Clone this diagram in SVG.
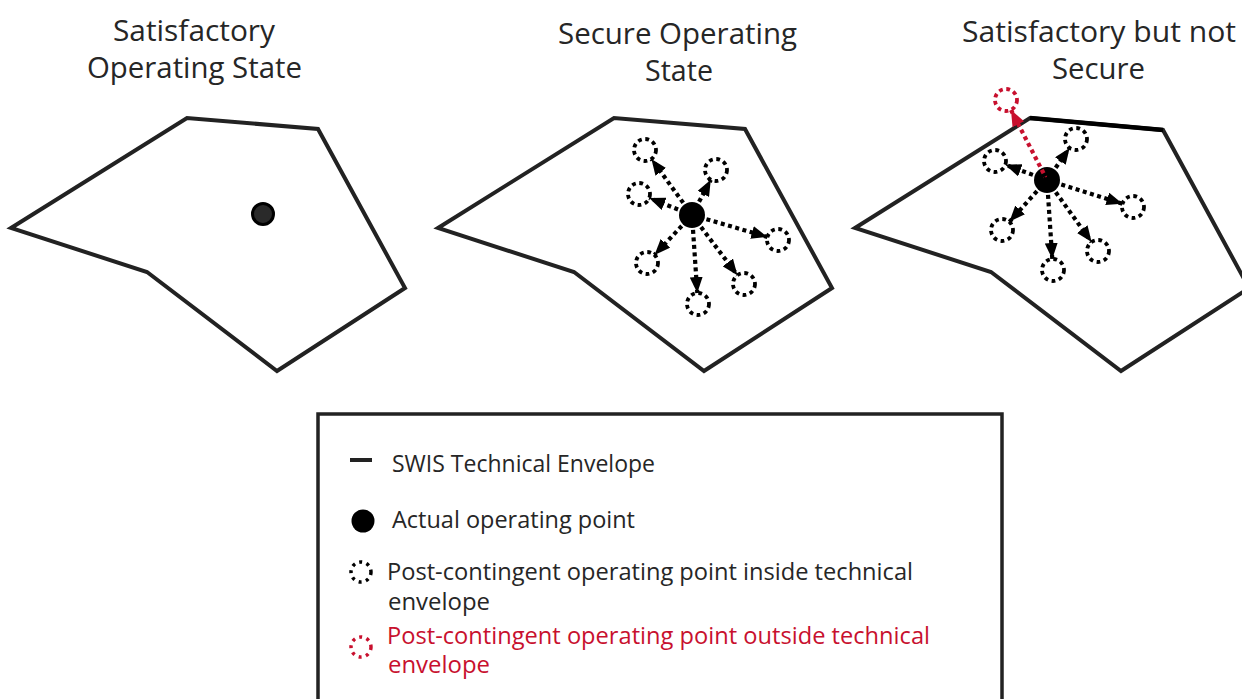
<svg xmlns="http://www.w3.org/2000/svg" width="1242" height="699" viewBox="0 0 1242 699">
<defs>
<style>
.title{font-family:"Open Sans","Liberation Sans",sans-serif;font-size:30px;fill:#262626;text-anchor:middle}
.leg{font-family:"Open Sans","Liberation Sans",sans-serif;font-size:23.5px;fill:#262626}
.legred{font-family:"Open Sans","Liberation Sans",sans-serif;font-size:23.5px;fill:#c8102e}
.env{fill:none;stroke:#222;stroke-width:4;stroke-linejoin:miter}
.pc{fill:none;stroke:#000;stroke-width:3.8;stroke-dasharray:3.8 3.6}
.pcred{fill:none;stroke:#c8102e;stroke-width:3.8;stroke-dasharray:3.8 3.6}
.arr{stroke:#000;stroke-width:4.2;stroke-dasharray:4 3.5;fill:none;marker-end:url(#ah)}
.arrred{stroke:#c8102e;stroke-width:4.2;stroke-dasharray:4 3.5;fill:none;marker-end:url(#ahr)}
</style>
<marker id="ah" markerUnits="userSpaceOnUse" markerWidth="16" markerHeight="13" viewBox="0 0 16 13" refX="16" refY="6.5" orient="auto"><path d="M0,0 L16,6.5 L0,13 Z" fill="#000"/></marker>
<marker id="ahr" markerUnits="userSpaceOnUse" markerWidth="16" markerHeight="13" viewBox="0 0 16 13" refX="16" refY="6.5" orient="auto"><path d="M0,0 L16,6.5 L0,13 Z" fill="#c8102e"/></marker>
</defs>
<rect width="1242" height="699" fill="#fff"/>

<g id="title1">
<text class="title" x="194" y="41" textLength="162" lengthAdjust="spacingAndGlyphs">Satisfactory</text>
<text class="title" x="194.5" y="78" textLength="215" lengthAdjust="spacingAndGlyphs">Operating State</text>
</g>
<g id="title2">
<text class="title" x="677.5" y="44" textLength="239" lengthAdjust="spacingAndGlyphs">Secure Operating</text>
<text class="title" x="679" y="81" textLength="68" lengthAdjust="spacingAndGlyphs">State</text>
</g>
<g id="title3">
<text class="title" x="1099" y="42" textLength="274" lengthAdjust="spacingAndGlyphs">Satisfactory but not</text>
<text class="title" x="1098.5" y="79" textLength="93" lengthAdjust="spacingAndGlyphs">Secure</text>
</g>

<g id="panel1">
<polygon class="env" points="11,228 187,118 318,129 405,288 277,371 147,272"/>
<circle cx="263" cy="214" r="10.5" fill="#2a2a2a" stroke="#000" stroke-width="3"/>
</g>

<g id="panel2">
<polygon class="env" points="438,228 614,118 745,129 832,288 704,371 574,272"/>
<circle class="pc" cx="645" cy="150" r="11"/>
<circle class="pc" cx="716" cy="170" r="11"/>
<circle class="pc" cx="639" cy="194" r="11"/>
<circle class="pc" cx="778" cy="240" r="11"/>
<circle class="pc" cx="647" cy="263" r="11"/>
<circle class="pc" cx="744" cy="284" r="11"/>
<circle class="pc" cx="698" cy="304" r="11"/>
<circle cx="692" cy="215" r="13" fill="#000"/>
</g>

<g id="panel3">
<polygon class="env" points="855,228 1030,118 1163,130 1249,288 1121,371 991,272"/>
<line x1="1030" y1="118" x2="1163" y2="130" stroke="#000" stroke-width="4.5"/>
<circle class="pcred" cx="1006" cy="100" r="11"/>
<circle class="pc" cx="1076" cy="139" r="11"/>
<circle class="pc" cx="995" cy="161" r="11"/>
<circle class="pc" cx="1133" cy="207" r="11"/>
<circle class="pc" cx="1002" cy="230" r="11"/>
<circle class="pc" cx="1098" cy="251" r="11"/>
<circle class="pc" cx="1053" cy="270" r="11"/>
<circle cx="1047" cy="180" r="13" fill="#000"/>
</g>

<g id="connectors">
<line class="arr" x1="692" y1="215" x2="651.4" y2="158.9"/>
<line class="arr" x1="692" y1="215" x2="710.8" y2="179.7"/>
<line class="arr" x1="692" y1="215" x2="649.2" y2="198"/>
<line class="arr" x1="692" y1="215" x2="767.4" y2="236.9"/>
<line class="arr" x1="692" y1="215" x2="654.5" y2="255"/>
<line class="arr" x1="692" y1="215" x2="737.4" y2="275.2"/>
<line class="arr" x1="692" y1="215" x2="697.3" y2="293"/>
<line class="arrred" x1="1047" y1="180" x2="1011" y2="110"/>
<line class="arr" x1="1047" y1="180" x2="1069.6" y2="148"/>
<line class="arr" x1="1047" y1="180" x2="1005.3" y2="164.8"/>
<line class="arr" x1="1047" y1="180" x2="1122.5" y2="203.7"/>
<line class="arr" x1="1047" y1="180" x2="1009.4" y2="221.8"/>
<line class="arr" x1="1047" y1="180" x2="1091.6" y2="242.1"/>
<line class="arr" x1="1047" y1="180" x2="1052.3" y2="259"/>
</g>

<g id="legend">
<rect x="318" y="414" width="684" height="300" fill="none" stroke="#222" stroke-width="3.5"/>
<line x1="350" y1="460" x2="372" y2="460" stroke="#222" stroke-width="4"/>
<text class="leg" x="392" y="472" textLength="263" lengthAdjust="spacingAndGlyphs">SWIS Technical Envelope</text>
<circle cx="363" cy="521" r="11.5" fill="#000"/>
<text class="leg" x="392" y="528" textLength="243" lengthAdjust="spacingAndGlyphs">Actual operating point</text>
<circle cx="361" cy="572" r="10" fill="none" stroke="#000" stroke-width="3.5" stroke-dasharray="3 4.5"/>
<text class="leg" x="387" y="580" textLength="526" lengthAdjust="spacingAndGlyphs">Post-contingent operating point inside technical</text>
<text class="leg" x="388" y="610" textLength="102" lengthAdjust="spacingAndGlyphs">envelope</text>
<circle cx="361" cy="647" r="10" fill="none" stroke="#c8102e" stroke-width="3.5" stroke-dasharray="3 4.5"/>
<text class="legred" x="387" y="644" textLength="543" lengthAdjust="spacingAndGlyphs">Post-contingent operating point outside technical</text>
<text class="legred" x="388" y="673" textLength="102" lengthAdjust="spacingAndGlyphs">envelope</text>
</g>
</svg>
